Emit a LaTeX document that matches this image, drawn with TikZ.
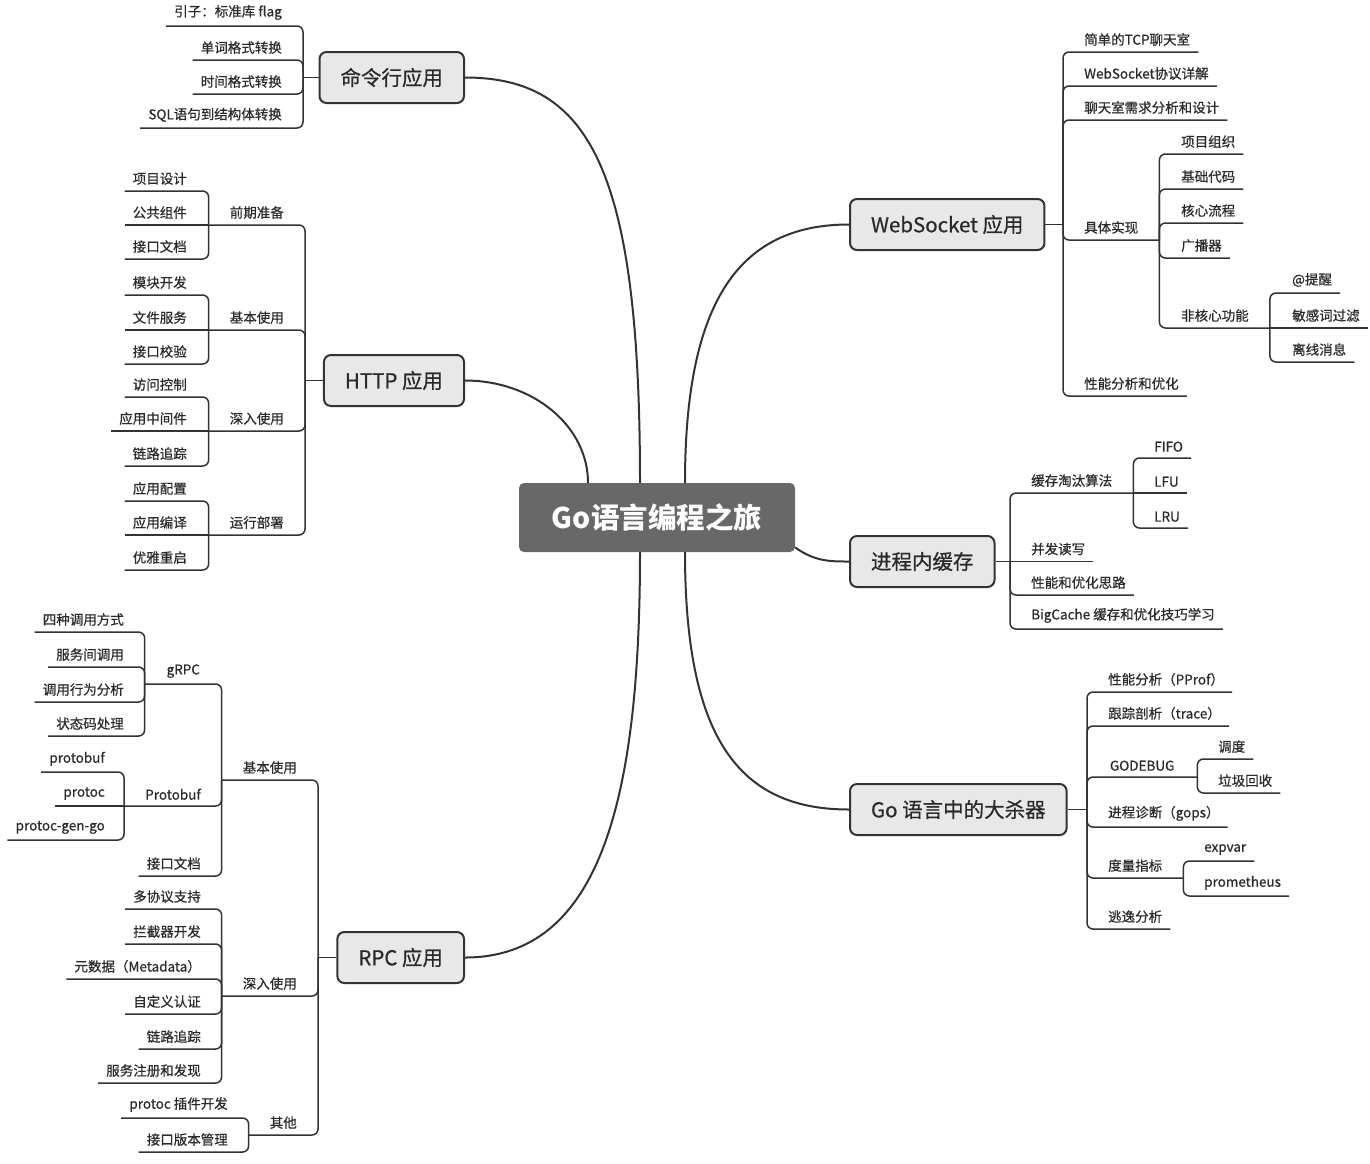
\documentclass[tikz,border=0pt]{standalone}
\usepackage{fontspec}
\setmainfont{Noto Sans CJK SC}
\newfontfamily\medfont{Noto Sans CJK SC}[FakeBold=0.6]
\usepackage{tikz}

\definecolor{linegray}{HTML}{333333}
\definecolor{topicgray}{HTML}{E8E8E8}
\definecolor{hubgray}{HTML}{686868}
\definecolor{txtgray}{HTML}{2A2A2A}

\newcommand{\leaffont}{\medfont\fontsize{13.5}{16}\selectfont}
\newcommand{\topicfont}{\medfont\fontsize{20.5}{24}\selectfont}
\newcommand{\hubfont}{\fontsize{28.5}{32}\selectfont\bfseries}

\tikzset{
    leafL/.style={anchor=south east, inner xsep=8pt, inner ysep=6pt, font=\leaffont, text=txtgray},
    leafR/.style={leafL, anchor=south west},
    subL/.style={leafL, inner xsep=21pt},
    subR/.style={leafR, inner xsep=21pt},
    link/.style={draw=linegray, line width=1.5pt, rounded corners=6pt},
    branch/.style={draw=linegray, line width=2pt},
    topic/.style={draw=linegray, fill=topicgray, line width=2pt, rounded corners=7pt,
        inner xsep=21pt, inner ysep=0pt, minimum height=51pt, font=\topicfont, text=txtgray},
    hub/.style={fill=hubgray, rounded corners=5pt, minimum width=276pt, minimum height=69pt,
        inner sep=0pt, font=\hubfont, text=white}
}

\begin{document}
\begin{tikzpicture}[x=1pt, y=-1pt]
    \useasboundingbox (0,0) rectangle (1370,1163);

    % Central topic
    \node[hub] (root) at (657,517.5) {Go语言编程之旅};

    % Main topics
    \node[topic, anchor=east] (cmd) at (465,77.5) {命令行应用};
    \node[topic, anchor=east] (http) at (465,380.5) {HTTP 应用};
    \node[topic, anchor=east] (rpc) at (465,957.5) {RPC 应用};
    \node[topic, anchor=west] (ws) at (849,224.5) {WebSocket 应用};
    \node[topic, anchor=west] (cache) at (849,561.5) {进程内缓存};
    \node[topic, anchor=west] (tool) at (849,809.5) {Go 语言中的大杀器};

    % Curves out of the central topic
    \draw[branch] ([xshift=-17pt]root.north) .. controls (640,170) and (590,77.5) .. (cmd.east);
    \draw[branch] ([xshift=-69pt]root.north) .. controls (588,426) and (533,380.5) .. (http.east);
    \draw[branch] ([xshift=-17pt]root.south) .. controls (640,800) and (600,957.5) .. (rpc.east);
    \draw[branch] ([xshift=28pt]root.north) .. controls (685,300) and (740,224.5) .. (ws.west);
    \draw[branch] ([yshift=-30pt]root.east) .. controls (815,561.5) and (830,561.5) .. (cache.west);
    \draw[branch] ([xshift=28pt]root.south) .. controls (685,740) and (740,809.5) .. (tool.west);

    % Command line branch (left)
    \coordinate (cmdS) at (303,77.5);
    \draw[link] (cmd.west) -- (cmdS);
    \node[leafL] (cmdA) at (290,26) {引子：标准库 flag};
    \node[leafL] (cmdB) at (290,60) {单词格式转换};
    \node[leafL] (cmdC) at (290,94) {时间格式转换};
    \node[leafL] (cmdD) at (290,128) {SQL语句到结构体转换};
    \draw[link] (cmdS) |- (cmdA.south west);
    \draw[link] (cmdS) |- (cmdB.south west);
    \draw[link] (cmdS) |- (cmdC.south west);
    \draw[link] (cmdS) |- (cmdD.south west);

    % HTTP branch (left)
    \coordinate (httpS) at (305,380.5);
    \draw[link] (http.west) -- (httpS);
    \node[subL] (httpA) at (305,225) {前期准备};
    \node[subL] (httpB) at (305,330) {基本使用};
    \node[subL] (httpC) at (305,431) {深入使用};
    \node[subL] (httpD) at (305,535) {运行部署};
    \draw[link] (httpS) |- (httpA.south west);
    \draw[link] (httpS) |- (httpB.south west);
    \draw[link] (httpS) |- (httpC.south west);
    \draw[link] (httpS) |- (httpD.south west);

    \node[leafL] (httpA1) at (195,191) {项目设计};
    \node[leafL] (httpA2) at (195,225) {公共组件};
    \node[leafL] (httpA3) at (195,259) {接口文档};
    \draw[link] (httpA.south west) |- (httpA1.south west);
    \draw[link] (httpA.south west) -- (httpA2.south west);
    \draw[link] (httpA.south west) |- (httpA3.south west);

    \node[leafL] (httpB1) at (195,295) {模块开发};
    \node[leafL] (httpB2) at (195,330) {文件服务};
    \node[leafL] (httpB3) at (195,364) {接口校验};
    \draw[link] (httpB.south west) |- (httpB1.south west);
    \draw[link] (httpB.south west) -- (httpB2.south west);
    \draw[link] (httpB.south west) |- (httpB3.south west);

    \node[leafL] (httpC1) at (195,397) {访问控制};
    \node[leafL] (httpC2) at (195,431) {应用中间件};
    \node[leafL] (httpC3) at (195,466) {链路追踪};
    \draw[link] (httpC.south west) |- (httpC1.south west);
    \draw[link] (httpC.south west) -- (httpC2.south west);
    \draw[link] (httpC.south west) |- (httpC3.south west);

    \node[leafL] (httpD1) at (195,501) {应用配置};
    \node[leafL] (httpD2) at (195,535) {应用编译};
    \node[leafL] (httpD3) at (195,570) {优雅重启};
    \draw[link] (httpD.south west) |- (httpD1.south west);
    \draw[link] (httpD.south west) -- (httpD2.south west);
    \draw[link] (httpD.south west) |- (httpD3.south west);

    % RPC branch (left)
    \coordinate (rpcS) at (318,957.5);
    \draw[link] (rpc.west) -- (rpcS);
    \node[subL] (rpcA) at (318,780) {基本使用};
    \node[subL] (rpcB) at (318,996) {深入使用};
    \node[subL] (rpcC) at (318,1135) {其他};
    \draw[link] (rpcS) |- (rpcA.south west);
    \draw[link] (rpcS) |- (rpcB.south west);
    \draw[link] (rpcS) |- (rpcC.south west);

    \node[subL, minimum width=77pt] (grpc) at (222,684) {gRPC};
    \node[subL, minimum width=96pt] (pbuf) at (222,806) {Protobuf};
    \node[leafL] (rpcA3) at (209,876) {接口文档};
    \draw[link] (rpcA.south west) |- (grpc.south west);
    \draw[link] (rpcA.south west) |- (pbuf.south west);
    \draw[link] (rpcA.south west) |- (rpcA3.south west);

    \node[leafL] (grpc1) at (132,632) {四种调用方式};
    \node[leafL] (grpc2) at (132,667) {服务间调用};
    \node[leafL] (grpc3) at (132,702) {调用行为分析};
    \node[leafL] (grpc4) at (132,736) {状态码处理};
    \draw[link] (grpc.south west) |- (grpc1.south west);
    \draw[link] (grpc.south west) |- (grpc2.south west);
    \draw[link] (grpc.south west) |- (grpc3.south west);
    \draw[link] (grpc.south west) |- (grpc4.south west);

    \node[leafL] (pbuf1) at (113,772) {protobuf};
    \node[leafL] (pbuf2) at (113,806) {protoc};
    \node[leafL] (pbuf3) at (113,840) {protoc-gen-go};
    \draw[link] (pbuf.south west) |- (pbuf1.south west);
    \draw[link] (pbuf.south west) -- (pbuf2.south west);
    \draw[link] (pbuf.south west) |- (pbuf3.south west);

    \node[leafL] (rpcB1) at (209,909) {多协议支持};
    \node[leafL] (rpcB2) at (209,944) {拦截器开发};
    \node[leafL] (rpcB3) at (209,979) {元数据（Metadata）};
    \node[leafL] (rpcB4) at (209,1014) {自定义认证};
    \node[leafL] (rpcB5) at (209,1049) {链路追踪};
    \node[leafL] (rpcB6) at (209,1083) {服务注册和发现};
    \draw[link] (rpcB.south west) |- (rpcB1.south west);
    \draw[link] (rpcB.south west) |- (rpcB2.south west);
    \draw[link] (rpcB.south west) |- (rpcB3.south west);
    \draw[link] (rpcB.south west) |- (rpcB4.south west);
    \draw[link] (rpcB.south west) |- (rpcB5.south west);
    \draw[link] (rpcB.south west) |- (rpcB6.south west);

    \node[leafL] (rpcC1) at (236,1118) {protoc 插件开发};
    \node[leafL] (rpcC2) at (236,1152) {接口版本管理};
    \draw[link] (rpcC.south west) |- (rpcC1.south west);
    \draw[link] (rpcC.south west) |- (rpcC2.south west);

    % WebSocket branch (right)
    \coordinate (wsS) at (1063,224.5);
    \draw[link] (ws.east) -- (wsS);
    \node[leafR] (wsA) at (1076,52) {简单的TCP聊天室};
    \node[leafR] (wsB) at (1076,86) {WebSocket协议详解};
    \node[leafR] (wsC) at (1076,120) {聊天室需求分析和设计};
    \node[subR] (wsD) at (1063,240) {具体实现};
    \node[leafR] (wsE) at (1076,396) {性能分析和优化};
    \draw[link] (wsS) |- (wsA.south east);
    \draw[link] (wsS) |- (wsB.south east);
    \draw[link] (wsS) |- (wsC.south east);
    \draw[link] (wsS) |- (wsD.south east);
    \draw[link] (wsS) |- (wsE.south east);

    \node[leafR] (wsD1) at (1173,154) {项目组织};
    \node[leafR] (wsD2) at (1173,189) {基础代码};
    \node[leafR] (wsD3) at (1173,223) {核心流程};
    \node[leafR] (wsD4) at (1173,258) {广播器};
    \node[subR] (wsD5) at (1160,328) {非核心功能};
    \draw[link] (wsD.south east) |- (wsD1.south east);
    \draw[link] (wsD.south east) |- (wsD2.south east);
    \draw[link] (wsD.south east) |- (wsD3.south east);
    \draw[link] (wsD.south east) |- (wsD4.south east);
    \draw[link] (wsD.south east) |- (wsD5.south east);

    \node[leafR] (wsD51) at (1284,293) {@提醒};
    \node[leafR] (wsD52) at (1284,328) {敏感词过滤};
    \node[leafR] (wsD53) at (1284,362) {离线消息};
    \draw[link] (wsD5.south east) |- (wsD51.south east);
    \draw[link] (wsD5.south east) -- (wsD52.south east);
    \draw[link] (wsD5.south east) |- (wsD53.south east);

    % In-process cache branch (right)
    \coordinate (cacheS) at (1010,561.5);
    \draw[link] (cache.east) -- (cacheS);
    \node[subR] (cacheA) at (1010,493) {缓存淘汰算法};
    \node[leafR] (cacheB) at (1023,561.5) {并发读写};
    \node[leafR] (cacheC) at (1023,595) {性能和优化思路};
    \node[leafR] (cacheD) at (1023,629) {BigCache 缓存和优化技巧学习};
    \draw[link] (cacheS) |- (cacheA.south east);
    \draw[link] (cacheS) -- (cacheB.south east);
    \draw[link] (cacheS) |- (cacheC.south east);
    \draw[link] (cacheS) |- (cacheD.south east);

    \node[leafR] (cacheA1) at (1146,458) {FIFO};
    \node[leafR] (cacheA2) at (1146,493) {LFU};
    \node[leafR] (cacheA3) at (1146,528) {LRU};
    \draw[link] (cacheA.south east) |- (cacheA1.south east);
    \draw[link] (cacheA.south east) -- (cacheA2.south east);
    \draw[link] (cacheA.south east) |- (cacheA3.south east);

    % Tools branch (right)
    \coordinate (toolS) at (1087,809.5);
    \draw[link] (tool.east) -- (toolS);
    \node[leafR] (toolA) at (1100,692) {性能分析（PProf）};
    \node[leafR] (toolB) at (1100,726) {跟踪剖析（trace）};
    \node[subR, minimum width=110pt] (toolC) at (1087,777) {GODEBUG};
    \node[leafR] (toolD) at (1100,827) {进程诊断（gops）};
    \node[subR] (toolE) at (1087,878) {度量指标};
    \node[leafR] (toolF) at (1100,929) {逃逸分析};
    \draw[link] (toolS) |- (toolA.south east);
    \draw[link] (toolS) |- (toolB.south east);
    \draw[link] (toolS) |- (toolC.south east);
    \draw[link] (toolS) |- (toolD.south east);
    \draw[link] (toolS) |- (toolE.south east);
    \draw[link] (toolS) |- (toolF.south east);

    \node[leafR] (toolC1) at (1210,759) {调度};
    \node[leafR] (toolC2) at (1210,793) {垃圾回收};
    \draw[link] (toolC.south east) |- (toolC1.south east);
    \draw[link] (toolC.south east) |- (toolC2.south east);

    \node[leafR] (toolE1) at (1196,861) {expvar};
    \node[leafR] (toolE2) at (1196,896) {prometheus};
    \draw[link] (toolE.south east) |- (toolE1.south east);
    \draw[link] (toolE.south east) |- (toolE2.south east);
\end{tikzpicture}
\end{document}
